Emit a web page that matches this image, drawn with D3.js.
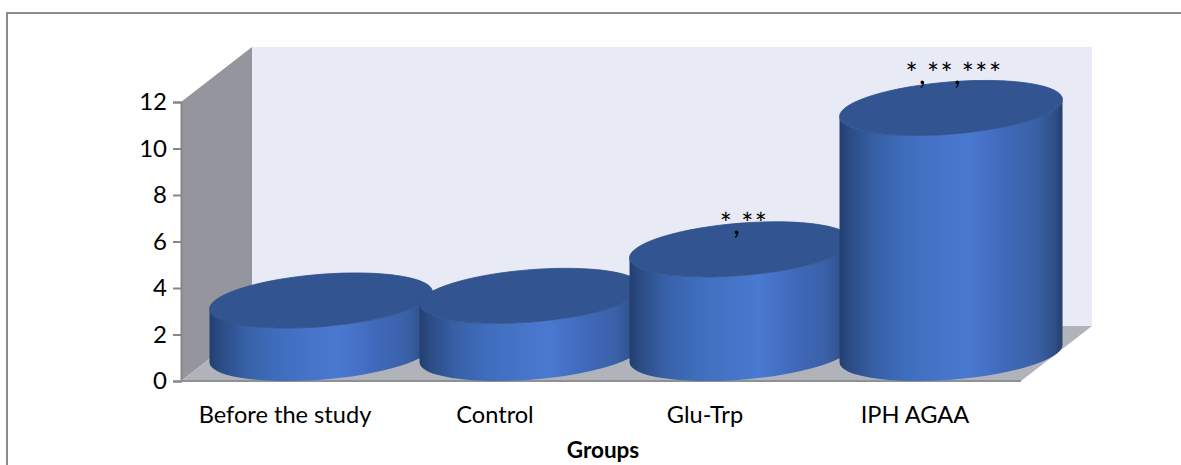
<!DOCTYPE html>
<html>
<head>
<meta charset="utf-8">
<script src="https://cdn.jsdelivr.net/npm/d3@7/dist/d3.min.js"></script>
<style>
  html, body { margin: 0; padding: 0; background: #fff; }
  svg { display: block; }
  text { font-family: Lato, "Open Sans", sans-serif; fill: #000; }
</style>
</head>
<body>
<svg id="chart" width="1181" height="465"></svg>
<script>
// Group means shown by the 3D cylinder chart
const categories = ["Before the study", "Control", "Glu-Trp", "IPH AGAA"];
const values = [2.28, 2.48, 4.48, 10.56];
const yTicks = [0, 2, 4, 6, 8, 10, 12];
const axisTitle = "Groups";
// Significance marks and the axis level each one is written at
const marks = ["", "", "*,**", "*,**,***"];
const markLevels = [0, 0, 6.32, 12.77];

const svg = d3.select("#chart");

// Plot box: front plane of the chart and the shift towards the back wall
const front = { left: 181, right: 1021, top: 102, bottom: 381 };
const depth = { dx: 71, dy: -55 };

const x = d3.scaleBand().domain(categories).range([front.left, front.right]);
const y = d3.scaleLinear().domain([0, 12]).range([front.bottom, front.top]);

// Cylinder outline: tilted ellipse seen in oblique projection
const ell = { a: 111.8, b: 26.1, rot: -4.63, halfW: 111.5, offY: 8.5 };

const defs = svg.append("defs");

const sideGrad = defs.append("linearGradient")
  .attr("id", "cylSide").attr("x1", 0).attr("x2", 1).attr("y1", 0).attr("y2", 0);
[[0, "#233e6f"], [0.04, "#2a4a82"], [0.16, "#3760a6"], [0.3, "#3f6dbd"],
 [0.58, "#4a79d1"], [0.74, "#4069bb"], [0.88, "#3a61a8"], [0.96, "#2f5089"], [1, "#253f6f"]]
  .forEach(([o, c]) => sideGrad.append("stop").attr("offset", o).attr("stop-color", c));

// Outer frame of the chart, open at the right and bottom of the page
svg.append("path")
  .attr("d", "M7,465V13H1181")
  .attr("fill", "none").attr("stroke", "#8c8c8c").attr("stroke-width", 2);

const poly = pts => "M" + pts.map(p => p.join(",")).join("L") + "Z";
const [fl, fr, ft, fb] = [front.left, front.right, front.top, front.bottom];
const back = p => [p[0] + depth.dx, p[1] + depth.dy];

// Back wall
svg.append("path")
  .attr("d", poly([back([fl, ft]), back([fr, ft]), back([fr, fb]), back([fl, fb])]))
  .attr("fill", "#e8eaf6");
// Side wall
svg.append("path")
  .attr("d", poly([[fl, ft], back([fl, ft]), back([fl, fb]), [fl, fb]]))
  .attr("fill", "#95969d");
// Floor
svg.append("path")
  .attr("d", poly([[fl, fb], [fr, fb], back([fr, fb]), back([fl, fb])]))
  .attr("fill", "#b0b3ba");

// Axes along the front plane
const yAxis = d3.axisLeft(y).tickValues(yTicks).tickSize(8).tickPadding(6);
const yG = svg.append("g").attr("transform", `translate(${fl},0)`).call(yAxis);
yG.selectAll("path,line").attr("stroke", "#868686").attr("stroke-width", 2);
yG.selectAll("text").attr("font-size", 24).attr("font-family", "Lato");

svg.append("line")
  .attr("x1", fl).attr("x2", fr).attr("y1", fb).attr("y2", fb)
  .attr("stroke", "#8f9094").attr("stroke-width", 2);

// Cylinders, painted left to right so each one overlaps the previous
const arc = (toX, toY, dir) =>
  `A${ell.a},${ell.b} ${ell.rot} 1 ${dir} ${toX},${toY}`;

const bars = svg.append("g").selectAll("g")
  .data(categories.map((c, i) => ({ c, v: values[i], m: marks[i], level: markLevels[i] })))
  .join("g");

const cx = d => x(d.c) + x.bandwidth() / 2 + depth.dx / 2 - 0.5;
const baseY = y(0) + depth.dy / 2;
const topY = d => y(d.v) + depth.dy / 2;

bars.append("path")
  .attr("d", d => {
    const l = cx(d) - ell.halfW, r = cx(d) + ell.halfW;
    return `M${l},${topY(d) + ell.offY}L${l},${baseY + ell.offY}` +
      arc(r, baseY - ell.offY, 0) + `L${r},${topY(d) - ell.offY}` +
      arc(l, topY(d) + ell.offY, 1) + "Z";
  })
  .attr("fill", "url(#cylSide)");

bars.append("path")
  .attr("d", d => {
    const l = cx(d) - ell.halfW, r = cx(d) + ell.halfW;
    return `M${l},${topY(d) + ell.offY}` + arc(r, topY(d) - ell.offY, 1) +
      arc(l, topY(d) + ell.offY, 1) + "Z";
  })
  .attr("fill", "#325591")
  .attr("stroke", "#2e4f88").attr("stroke-width", 0.8);

// Significance marks above the cylinder tops
bars.filter(d => d.m).append("text")
  .attr("x", d => cx(d) + 3)
  .attr("y", d => y(d.level))
  .attr("text-anchor", "middle")
  .attr("font-size", 28.5)
  .attr("letter-spacing", 1.4)
  .text(d => d.m);

// Category labels and axis title
svg.append("g").selectAll("text").data(categories).join("text")
  .attr("x", d => x(d) + x.bandwidth() / 2 - 1)
  .attr("y", 423)
  .attr("text-anchor", "middle")
  .attr("font-size", 23.6)
  .text(d => d);

svg.append("text")
  .attr("x", 603).attr("y", 458)
  .attr("text-anchor", "middle")
  .attr("font-size", 22.5).attr("font-weight", 700)
  .text(axisTitle);
</script>
</body>
</html>
